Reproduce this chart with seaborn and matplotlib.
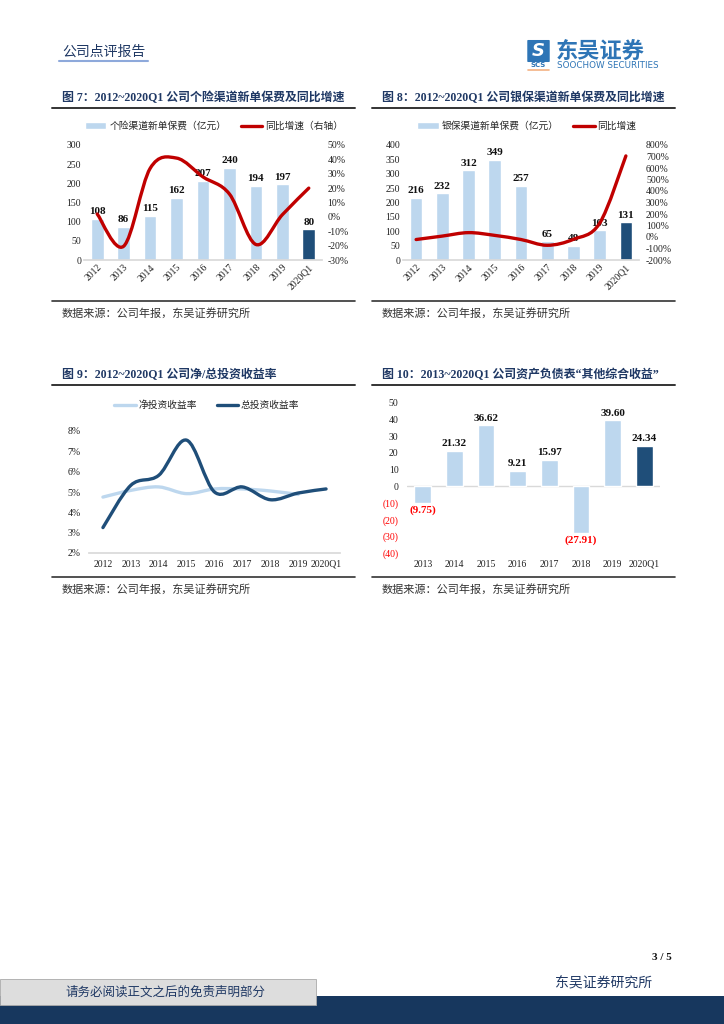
import numpy as np
import pandas as pd
import matplotlib
matplotlib.use("Agg")
import matplotlib.pyplot as plt
import seaborn as sns
from matplotlib.path import Path
from matplotlib.patches import PathPatch, Patch, Rectangle, FancyBboxPatch
from matplotlib.lines import Line2D

# ---------------- data ----------------
years = ["2012", "2013", "2014", "2015", "2016", "2017", "2018", "2019", "2020Q1"]

# fig 7: agent channel new business premium (100m yuan) and yoy growth (%)
agent_premium = [108, 86, 115, 162, 207, 240, 194, 197, 80]
agent_yoy = [2, -20.4, 33.7, 40.9, 27.8, 15.9, -19.2, 1.5, 20]

# fig 8: bancassurance new business premium and yoy growth (%)
banca_premium = [216, 232, 312, 349, 257, 65, 48, 103, 131]
banca_yoy = [-22, 8, 38, 14, -22, -72, -20, 120, 705]

# fig 9: net / total investment yield (%)
net_yield = [4.75, 5.08, 5.25, 4.92, 5.15, 5.15, 5.05, 4.88]
total_yield = [3.25, 5.33, 5.82, 7.55, 5.0, 5.25, 4.62, 4.95, 5.15]

# fig 10: other comprehensive income
oci_years = ["2013", "2014", "2015", "2016", "2017", "2018", "2019", "2020Q1"]
oci_values = [-9.75, 21.32, 36.62, 9.21, 15.97, -27.91, 39.60, 24.34]

# ---------------- style ----------------
LIGHT = "#BDD7EE"
DARK = "#1F4E79"
RED = "#C00000"
NAVY = "#1F3864"
SERIF = ["Liberation Serif", "Noto Sans CJK SC"]
CJK = ["Noto Sans CJK SC", "DejaVu Sans"]

sns.set_theme(style="white")
plt.rcParams["font.family"] = CJK
plt.rcParams["axes.unicode_minus"] = False

W, H = 724, 1024
fig = plt.figure(figsize=(W / 100, H / 100), dpi=100)


def px_rect(x0, y0, x1, y1):
    return [x0 / W, 1 - y1 / H, (x1 - x0) / W, (y1 - y0) / H]


def ftext(x, y, s, **kw):
    fig.text(x / W, 1 - y / H, s, **kw)


def hline(x0, x1, y, color="#222222", lw=1.3):
    fig.add_artist(Line2D([x0 / W, x1 / W], [1 - y / H, 1 - y / H],
                          color=color, lw=lw, transform=fig.transFigure))


def smooth_path(xs, ys):
    """Excel style smoothed line drawn as bezier segments through the points"""
    pts = np.column_stack([xs, ys]).astype(float)
    n = len(pts)
    verts = [pts[0]]
    codes = [Path.MOVETO]
    for i in range(n - 1):
        p0 = pts[max(i - 1, 0)]
        p1 = pts[i]
        p2 = pts[i + 1]
        p3 = pts[min(i + 2, n - 1)]
        verts += [p1 + (p2 - p0) / 6, p2 - (p3 - p1) / 6, p2]
        codes += [Path.CURVE4] * 3
    return Path(verts, codes)


def add_smooth(ax, ys, color, lw=2.4):
    patch = PathPatch(smooth_path(np.arange(len(ys)), ys), facecolor="none",
                      edgecolor=color, lw=lw, capstyle="round", joinstyle="round")
    ax.add_patch(patch)


def style_ticks(ax, rot=0):
    ax.tick_params(axis="both", length=0, pad=2)
    for lab in ax.get_xticklabels() + ax.get_yticklabels():
        lab.set_fontfamily(SERIF)
        lab.set_fontsize(7)
        lab.set_color("#222222")
    if rot:
        for lab in ax.get_xticklabels():
            lab.set_rotation(rot)
            lab.set_ha("right")
            lab.set_rotation_mode("anchor")


def bar_chart(rect, values, ymax, ystep):
    ax = fig.add_axes(rect)
    df = pd.DataFrame({"year": years, "value": values})
    colors = [LIGHT] * (len(years) - 1) + [DARK]
    sns.barplot(data=df, x="year", y="value", hue="year", palette=colors,
                legend=False, width=0.48, saturation=1, ax=ax)
    ax.set_xlim(-0.5, len(years) - 0.5)
    ax.set_ylim(0, ymax)
    ax.set_yticks(range(0, ymax + 1, ystep))
    ax.set_xlabel("")
    ax.set_ylabel("")
    for s in ["left", "right", "top"]:
        ax.spines[s].set_visible(False)
    ax.spines["bottom"].set_color("#D9D9D9")
    for i, v in enumerate(values):
        ax.annotate(f"{v}", (i, v), xytext=(0, 2), textcoords="offset points",
                    ha="center", va="bottom", fontsize=8, fontweight="bold",
                    family=SERIF, color="#111111")
    style_ticks(ax, rot=45)
    return ax


def panel_frame(x0, x1, title, ty, line_y, bottom_y):
    ftext(x0 + 10, ty, title, fontsize=8.6, fontweight="bold", color=NAVY,
          family=SERIF, va="center")
    hline(x0, x1, line_y, color="#333333", lw=1.4)
    hline(x0, x1, bottom_y, color="#333333", lw=1.2)
    ftext(x0 + 10, bottom_y + 12, "数据来源：公司年报，东吴证券研究所",
          fontsize=8, color="#333333", va="center")


# ---------------- header ----------------
ftext(62, 52, "公司点评报告", fontsize=10, color=NAVY, va="center")
hline(59, 148, 61, color="#8EA9DB", lw=1.5)

fig.add_artist(FancyBboxPatch((528 / W, 1 - 61 / H), 21 / W, 20 / H,
                              boxstyle="round,pad=0.001", transform=fig.transFigure,
                              facecolor="#2E75B6", edgecolor="none"))
ftext(538.5, 51, "S", fontsize=13, fontweight="bold", style="italic",
      color="white", ha="center", va="center", family=["DejaVu Sans"])
ftext(538.5, 65, "SCS", fontsize=5, fontweight="bold", color="#2E75B6",
      ha="center", va="center", family=["DejaVu Sans"])
hline(528, 549, 69.5, color="#F4B183", lw=1.2)
ftext(556, 51, "东吴证券", fontsize=16, fontweight="bold", color="#2E75B6",
      va="center")
ftext(557, 66, "SOOCHOW SECURITIES", fontsize=6.3, color="#2E75B6",
      va="center", family=["DejaVu Sans"])

# ---------------- fig 7 ----------------
panel_frame(52, 355, "图 7：2012~2020Q1 公司个险渠道新单保费及同比增速", 98, 108, 301)
ax7 = bar_chart(px_rect(84, 145, 322, 260), agent_premium, 300, 50)
ax7b = ax7.twinx()
ax7b.set_ylim(-30, 50)
ax7b.set_yticks(range(-30, 51, 10))
ax7b.set_yticklabels([f"{t}%" for t in range(-30, 51, 10)])
ax7b.grid(False)
for s in ax7b.spines.values():
    s.set_visible(False)
add_smooth(ax7b, agent_yoy, RED)
style_ticks(ax7b)
ax7b.tick_params(axis="y", pad=4)
ax7.legend([Patch(facecolor=LIGHT), Line2D([0], [0], color=RED, lw=2.4)],
           ["个险渠道新单保费（亿元）", "同比增速（右轴）"],
           loc="center", bbox_to_anchor=(214 / W, 1 - 126 / H),
           bbox_transform=fig.transFigure, ncol=2, frameon=False,
           fontsize=7, handlelength=2.2, handleheight=0.6, columnspacing=1.5,
           handletextpad=0.3)

# ---------------- fig 8 ----------------
panel_frame(372, 675, "图 8：2012~2020Q1 公司银保渠道新单保费及同比增速", 98, 108, 301)
ax8 = bar_chart(px_rect(403, 145, 639, 260), banca_premium, 400, 50)
ax8b = ax8.twinx()
ax8b.set_ylim(-200, 800)
ax8b.set_yticks(range(-200, 801, 100))
ax8b.set_yticklabels([f"{t}%" for t in range(-200, 801, 100)])
ax8b.grid(False)
for s in ax8b.spines.values():
    s.set_visible(False)
add_smooth(ax8b, banca_yoy, RED)
style_ticks(ax8b)
ax8b.tick_params(axis="y", pad=5)
ax8.legend([Patch(facecolor=LIGHT), Line2D([0], [0], color=RED, lw=2.4)],
           ["银保渠道新单保费（亿元）", "同比增速"],
           loc="center", bbox_to_anchor=(527 / W, 1 - 126 / H),
           bbox_transform=fig.transFigure, ncol=2, frameon=False,
           fontsize=7, handlelength=2.2, handleheight=0.6, columnspacing=1.5,
           handletextpad=0.3)

# ---------------- fig 9 ----------------
panel_frame(52, 355, "图 9：2012~2020Q1 公司净/总投资收益率", 375, 385, 577)
ax9 = fig.add_axes(px_rect(89, 431, 340, 553))
ax9.set_xlim(-0.5, len(years) - 0.5)
ax9.set_ylim(2, 8)
ax9.set_yticks(range(2, 9))
ax9.set_yticklabels([f"{t}%" for t in range(2, 9)])
ax9.set_xticks(range(len(years)))
ax9.set_xticklabels(years)
for s in ["left", "right", "top"]:
    ax9.spines[s].set_visible(False)
ax9.spines["bottom"].set_color("#D9D9D9")
add_smooth(ax9, net_yield, LIGHT)
add_smooth(ax9, total_yield, DARK)
style_ticks(ax9)
ax9.tick_params(axis="x", pad=5)
ax9.tick_params(axis="y", pad=6)
ax9.legend([Line2D([0], [0], color=LIGHT, lw=2.4), Line2D([0], [0], color=DARK, lw=2.4)],
           ["净投资收益率", "总投资收益率"],
           loc="center", bbox_to_anchor=(207 / W, 1 - 405 / H),
           bbox_transform=fig.transFigure, ncol=2, frameon=False,
           fontsize=7, handlelength=2.2, columnspacing=2.0, handletextpad=0.3)

# ---------------- fig 10 ----------------
panel_frame(372, 675, "图 10：2013~2020Q1 公司资产负债表“其他综合收益”", 375, 385, 577)
ax10 = fig.add_axes(px_rect(407, 403, 660, 553))
df10 = pd.DataFrame({"year": oci_years, "value": oci_values})
sns.barplot(data=df10, x="year", y="value", hue="year",
            palette=[LIGHT] * (len(oci_years) - 1) + [DARK],
            legend=False, width=0.53, saturation=1, ax=ax10)
ax10.set_xlim(-0.5, len(oci_years) - 0.5)
ax10.set_ylim(-40, 50)
ticks10 = list(range(-40, 51, 10))
ax10.set_yticks(ticks10)
ax10.set_yticklabels([f"({-t})" if t < 0 else f"{t}" for t in ticks10])
ax10.set_xlabel("")
ax10.set_ylabel("")
for s in ax10.spines.values():
    s.set_visible(False)
ax10.axhline(0, color="#D9D9D9", lw=1, zorder=0)
style_ticks(ax10)
ax10.tick_params(axis="x", pad=5)
ax10.tick_params(axis="y", pad=6)
for t, lab in zip(ticks10, ax10.get_yticklabels()):
    if t < 0:
        lab.set_color("#FF0000")
for i, v in enumerate(oci_values):
    if v >= 0:
        ax10.annotate(f"{v:.2f}", (i, v), xytext=(0, 2), textcoords="offset points",
                      ha="center", va="bottom", fontsize=8, fontweight="bold",
                      family=SERIF, color="#111111")
    else:
        ax10.annotate(f"({-v:.2f})", (i, v), xytext=(0, -2), textcoords="offset points",
                      ha="center", va="top", fontsize=8, fontweight="bold",
                      family=SERIF, color="#FF0000")

# ---------------- footer ----------------
ftext(672, 958, "3 / 5", fontsize=8, fontweight="bold", family=SERIF,
      ha="right", va="center", color="#111111")
ftext(652, 983, "东吴证券研究所", fontsize=10, color=NAVY, ha="right", va="center")
fig.add_artist(Rectangle((0, 0), 1, 28 / H, transform=fig.transFigure,
                         facecolor="#17375E", edgecolor="none"))
fig.add_artist(Rectangle((0, 1 - 1005 / H), 316 / W, 26 / H, transform=fig.transFigure,
                         facecolor="#DDDDDD", edgecolor="#AAAAAA", lw=0.6))
ftext(166, 992, "请务必阅读正文之后的免责声明部分", fontsize=9, color=NAVY,
      ha="center", va="center")

fig.savefig("out.png", dpi=100)
